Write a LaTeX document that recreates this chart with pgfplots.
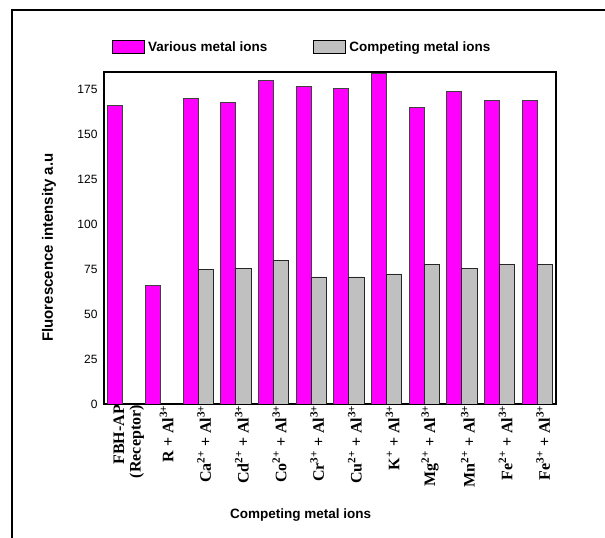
\documentclass[border=0pt]{standalone}
\usepackage{pgfplots}
\pgfplotsset{compat=1.18}
\usepackage{fontspec}
\setmainfont{Liberation Sans}
\newfontfamily\tnr{Liberation Serif}
\definecolor{mag}{RGB}{255,0,255}
\definecolor{gry}{RGB}{192,192,192}
\begin{document}
\begin{tikzpicture}
\useasboundingbox (0,0) rectangle (605pt,538pt);
\draw[line width=1.4pt] (12pt,0) -- (12pt,528pt) -- (605pt,528pt);
\begin{axis}[
  at={(104pt,134pt)}, anchor=south west,
  scale only axis, width=452pt, height=332pt,
  ybar=0pt, bar width=0.4,
  xmin=-0.5, xmax=11.5, ymin=0, ymax=184.5,
  xtick={0,...,11},
  xticklabels={{FBH-AP\\(Receptor)},
    {R + Al\textsuperscript{3+}},
    {Ca\textsuperscript{2+} + Al\textsuperscript{3+}},
    {Cd\textsuperscript{2+} + Al\textsuperscript{3+}},
    {Co\textsuperscript{2+} + Al\textsuperscript{3+}},
    {Cr\textsuperscript{3+} + Al\textsuperscript{3+}},
    {Cu\textsuperscript{2+} + Al\textsuperscript{3+}},
    {K\textsuperscript{+} + Al\textsuperscript{3+}},
    {Mg\textsuperscript{2+} + Al\textsuperscript{3+}},
    {Mn\textsuperscript{2+} + Al\textsuperscript{3+}},
    {Fe\textsuperscript{2+} + Al\textsuperscript{3+}},
    {Fe\textsuperscript{3+} + Al\textsuperscript{3+}}},
  xticklabel style={rotate=90, anchor=east, align=right,
    font=\tnr\bfseries\fontsize{16}{16.5}\selectfont, inner sep=1pt, yshift=-6pt},
  ytick={0,25,...,175},
  yticklabel style={font=\fontsize{12}{14}\selectfont, xshift=-3pt},
  /pgf/number format/assume math mode=true,
  major tick length=0pt,
  axis line style={line width=1.6pt},
  xlabel={Competing metal ions},
  xlabel style={at={(axis description cs:0.435,0)}, anchor=center, yshift=-111pt,
    font=\bfseries\fontsize{13.5}{15}\selectfont},
  ylabel={Fluorescence intensity a.u},
  ylabel style={at={(axis description cs:-0.1217,0.471)}, anchor=center,
    font=\bfseries\fontsize{15}{17}\selectfont},
  legend columns=2,
  legend style={draw=none, fill=none, at={(axis description cs:0.017,1)}, anchor=west,
    yshift=25pt, inner sep=0pt, font=\bfseries\fontsize{13.5}{15}\selectfont,
    nodes={inner xsep=3.5pt, inner ysep=2pt},
    /tikz/every even column/.append style={column sep=42pt}},
  legend image code/.code={\draw[#1, draw=black, line width=0.8pt] (0pt,-6.5pt) rectangle (32pt,6.5pt);},
]
\addplot[fill=mag, draw=black!75, line width=0.7pt] coordinates {
 (0,165.7) (1,65.7) (2,169.6) (3,167.4) (4,179.6) (5,176.3) (6,175.2) (7,183.8) (8,164.6) (9,173.5) (10,168.5) (11,168.5)};
\addplot[fill=gry, draw=black!85, line width=0.7pt] coordinates {
 (2,74.6) (3,75.2) (4,79.6) (5,70.6) (6,70.6) (7,72.3) (8,77.4) (9,75.2) (10,77.4) (11,77.4)};
\legend{Various metal ions, Competing metal ions}
\end{axis}
\end{tikzpicture}
\end{document}
